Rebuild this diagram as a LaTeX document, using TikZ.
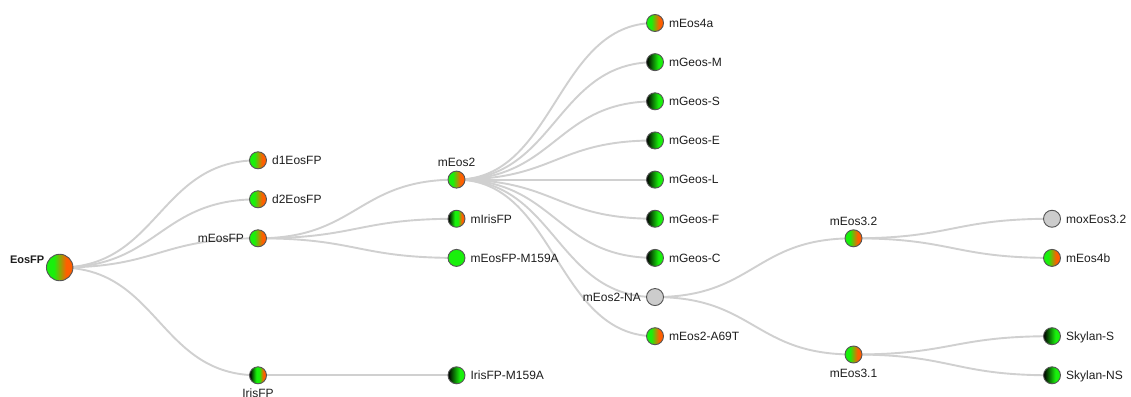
\documentclass[tikz,border=0pt]{standalone}
\usepackage{fontspec}
\setmainfont{Liberation Sans}
\usetikzlibrary{calc}
\definecolor{cgreen}{RGB}{25,240,12}
\definecolor{corange}{RGB}{255,95,0}
\definecolor{cgrayfill}{RGB}{204,204,204}
\definecolor{cborder}{RGB}{85,85,85}
\definecolor{clink}{RGB}{208,208,208}
\definecolor{ctext}{RGB}{30,30,30}
\pgfdeclarehorizontalshading{shgo}{100bp}{color(0bp)=(cgreen); color(39bp)=(cgreen); color(62bp)=(corange); color(100bp)=(corange)}
\pgfdeclarehorizontalshading{shbg}{100bp}{color(0bp)=(black); color(26bp)=(black); color(60bp)=(cgreen); color(100bp)=(cgreen)}
\pgfdeclarehorizontalshading{shbgo}{100bp}{color(0bp)=(black); color(26bp)=(black); color(45bp)=(cgreen); color(54bp)=(cgreen); color(66bp)=(corange); color(100bp)=(corange)}
\pgfdeclarelayer{bglayer}
\pgfsetlayers{bglayer,main}
\newcommand{\lnk}[2]{%
  \coordinate (tmpm) at ($(#1.center)!0.5!(#2.center)$);
  \draw[link] (#1.center) .. controls (tmpm |- #1.center) and (tmpm |- #2.center) .. (#2.center);}
\tikzset{
  dot/.style={circle, draw=cborder, line width=0.9pt, minimum size=17pt, inner sep=0pt},
  bigdot/.style={dot, minimum size=26.5pt},
  fgo/.style={shade, shading=shgo},
  fbg/.style={shade, shading=shbg},
  fbgo/.style={shade, shading=shbgo},
  fgreen/.style={fill=cgreen},
  fgray/.style={fill=cgrayfill},
  lbl/.style={font=\fontsize{12pt}{14pt}\selectfont, text=ctext, text height=8.6pt, text depth=0pt, inner sep=4pt},
  link/.style={draw=clink, line width=1.9pt},
  every label/.style={lbl},
  label distance=1pt
}
\begin{document}
\begin{tikzpicture}[x=1pt,y=-1pt]
\useasboundingbox (0,0) rectangle (1131,396);
% column 0
\node[bigdot, fgo, label={[font=\fontsize{11pt}{13pt}\selectfont\bfseries, anchor=base east, inner sep=0pt, text depth=0pt, xshift=-0.5pt, yshift=4.2pt]left:EosFP}] (eosfp) at (59.7,267.5) {};
% column 1
\node[dot, fgo, label=right:d1EosFP] (d1) at (258,160.3) {};
\node[dot, fgo, label=right:d2EosFP] (d2) at (258,199.3) {};
\node[dot, fgo, label=left:mEosFP] (meosfp) at (258,238.3) {};
\node[dot, fbgo, label={[label distance=0pt]below:IrisFP}] (irisfp) at (258,375.3) {};
% column 2
\node[dot, fgo, label={[label distance=0pt]above:mEos2}] (meos2) at (456.5,179.6) {};
\node[dot, fbgo, label=right:mIrisFP] (mirisfp) at (456.5,218.75) {};
\node[dot, fgreen, label=right:mEosFP-M159A] (m159a) at (456.5,257.9) {};
\node[dot, fbg, label=right:IrisFP-M159A] (iris159a) at (456.5,375.3) {};
% column 3
\node[dot, fgo, label=right:mEos4a] (meos4a) at (655,23) {};
\node[dot, fbg, label=right:mGeos-M] (gm) at (655,62.15) {};
\node[dot, fbg, label=right:mGeos-S] (gs) at (655,101.3) {};
\node[dot, fbg, label=right:mGeos-E] (ge) at (655,140.45) {};
\node[dot, fbg, label=right:mGeos-L] (gl) at (655,179.6) {};
\node[dot, fbg, label=right:mGeos-F] (gf) at (655,218.75) {};
\node[dot, fbg, label=right:mGeos-C] (gc) at (655,257.9) {};
\node[dot, fgray, label=left:mEos2-NA] (na) at (655,297.05) {};
\node[dot, fgo, label=right:mEos2-A69T] (a69t) at (655,336.2) {};
% column 4
\node[dot, fgo, label={[label distance=0pt]above:mEos3.2}] (m32) at (853.5,238.3) {};
\node[dot, fgo, label={[label distance=1pt]below:mEos3.1}] (m31) at (853.5,354.5) {};
% column 5
\node[dot, fgray, label=right:moxEos3.2] (mox) at (1052,218.75) {};
\node[dot, fgo, label=right:mEos4b] (m4b) at (1052,257.9) {};
\node[dot, fbg, label=right:Skylan-S] (sks) at (1052,336.2) {};
\node[dot, fbg, label=right:Skylan-NS] (skns) at (1052,375.3) {};
\begin{pgfonlayer}{bglayer}
\fill[white] (0,0) rectangle (1131,396);
\lnk{eosfp}{d1}
\lnk{eosfp}{d2}
\lnk{eosfp}{meosfp}
\lnk{eosfp}{irisfp}
\lnk{meosfp}{meos2}
\lnk{meosfp}{mirisfp}
\lnk{meosfp}{m159a}
\lnk{irisfp}{iris159a}
\lnk{meos2}{meos4a}
\lnk{meos2}{gm}
\lnk{meos2}{gs}
\lnk{meos2}{ge}
\lnk{meos2}{gl}
\lnk{meos2}{gf}
\lnk{meos2}{gc}
\lnk{meos2}{na}
\lnk{meos2}{a69t}
\lnk{na}{m32}
\lnk{na}{m31}
\lnk{m32}{mox}
\lnk{m32}{m4b}
\lnk{m31}{sks}
\lnk{m31}{skns}
\end{pgfonlayer}
\end{tikzpicture}
\end{document}
